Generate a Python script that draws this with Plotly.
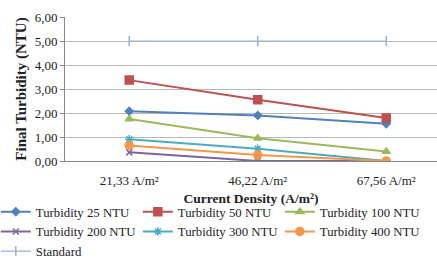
import plotly.graph_objects as go

categories = ["21,33 A/m²", "46,22 A/m²", "67,56 A/m²"]
series_names = ["Turbidity 25 NTU", "Turbidity 50 NTU", "Turbidity 100 NTU",
                "Turbidity 200 NTU", "Turbidity 300 NTU", "Turbidity 400 NTU", "Standard"]
t25 = [2.07, 1.90, 1.55]
t50 = [3.37, 2.55, 1.79]
t100 = [1.75, 0.95, 0.40]
t200 = [0.36, 0.00, 0.00]
t300 = [0.91, 0.51, 0.00]
t400 = [0.65, 0.25, 0.00]
standard = [5.00, 5.00, 5.00]
y_ticks = [0, 1, 2, 3, 4, 5, 6]
y_ticktext = ["0,00", "1,00", "2,00", "3,00", "4,00", "5,00", "6,00"]

values = [t25, t50, t100, t200, t300, t400, standard]
colors = ["#4F81BD", "#C0504D", "#9BBB59", "#8064A2", "#4BACC6", "#F79646", "#95B3D7"]
symbols = ["diamond", "square", "triangle-up", "x-thin", "asterisk", "circle", "line-ns"]
sizes = [6, 8, 7, 6, 7, 8, 7]
widths = [2, 2, 2, 2, 2, 2, 1.2]

FONT = "Liberation Serif"
fig = go.Figure()
xs = [0, 1, 2]
for name, v, c, s, sz, w in zip(series_names, values, colors, symbols, sizes, widths):
    fig.add_trace(go.Scatter(
        x=xs, y=v, name=name, mode="lines+markers",
        line=dict(color=c, width=w),
        marker=dict(symbol=s, size=sz, color=c, line=dict(color=c, width=1.5)),
    ))

fig.update_layout(
    width=437, height=265,
    margin=dict(l=65, r=0, t=17, b=104, autoexpand=False),
    paper_bgcolor="white", plot_bgcolor="white",
    font=dict(family=FONT, size=12, color="#222"),
    showlegend=True,
    legend=dict(orientation="h", xref="paper", yref="paper",
                x=-0.186, xanchor="left", y=-0.25, yanchor="top",
                entrywidth=97, entrywidthmode="pixels",
                font=dict(family=FONT, size=12.8, color="#222"),
                tracegroupgap=0, itemwidth=30,
                bgcolor="rgba(0,0,0,0)"),
)
fig.update_xaxes(
    range=[-0.5, 2.395], tickvals=xs, ticktext=categories,
    showgrid=False, showline=True, linecolor="#888", linewidth=1,
    ticks="outside", ticklen=7, tickcolor="rgba(0,0,0,0)",
    tickfont=dict(family=FONT, size=13, color="#222"),
    title=dict(text="<b>Current Density (A/m²)</b>", font=dict(family=FONT, size=13.5, color="#222"), standoff=6),
    zeroline=False,
)
fig.update_yaxes(
    range=[0, 6], tickvals=y_ticks, ticktext=y_ticktext,
    showgrid=True, gridcolor="#b8b8b8", gridwidth=1,
    showline=True, linecolor="#888", linewidth=1,
    ticks="outside", ticklen=4, tickcolor="#888",
    tickfont=dict(family=FONT, size=13, color="#222"),
    title=dict(text="<b>Final Turbidity (NTU)</b>", font=dict(family=FONT, size=15, color="#222"), standoff=4),
    zeroline=False,
)
fig.write_html("out.html", config={"displayModeBar": False},
               post_script="document.body.style.margin='0';document.body.style.overflow='hidden';")
